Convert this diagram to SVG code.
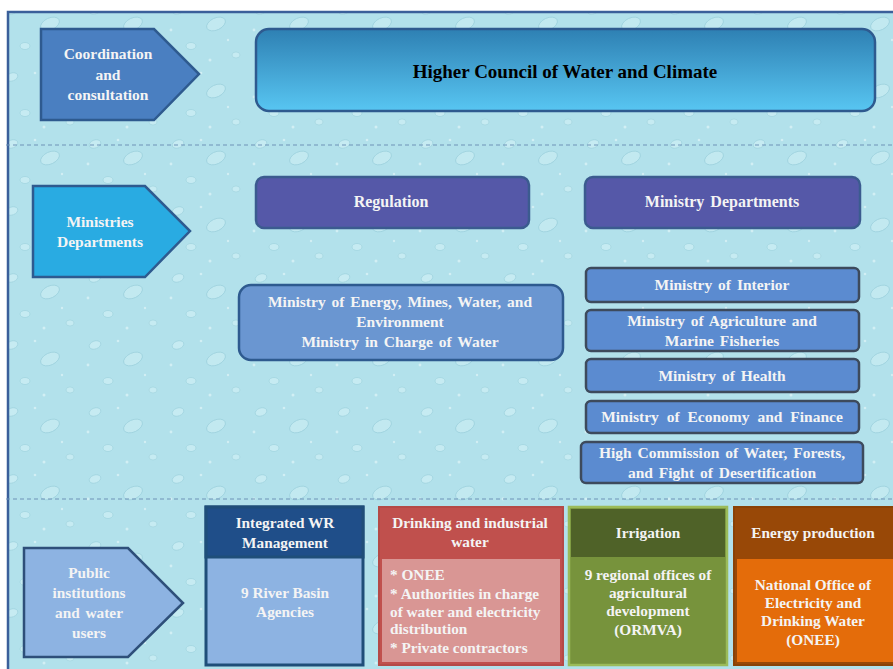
<svg xmlns="http://www.w3.org/2000/svg" width="893" height="669" viewBox="0 0 893 669">
<defs>
<pattern id="drops" x="0" y="0" width="83" height="67" patternUnits="userSpaceOnUse">
<rect width="83" height="67" fill="#b2e1eb"/>
<ellipse cx="12" cy="10" rx="6" ry="4" fill="#c6ebf2" stroke="#9dd2de" stroke-width="0.7" transform="rotate(-20 12 10)"/>
<ellipse cx="50" cy="24" rx="10" ry="6" fill="#c2e9f0" stroke="#98cedb" stroke-width="0.7" transform="rotate(-25 50 24)"/>
<ellipse cx="25" cy="46" rx="5" ry="3.5" fill="#c6ebf2" stroke="#9dd2de" stroke-width="0.7"/>
<ellipse cx="70" cy="55" rx="4" ry="3" fill="#c6ebf2" stroke="#9dd2de" stroke-width="0.6"/>
<circle cx="5" cy="30" r="1.4" fill="#d2eff4"/>
<circle cx="35" cy="6" r="1.3" fill="#d2eff4"/>
<circle cx="62" cy="40" r="1.2" fill="#d2eff4"/>
<circle cx="44" cy="60" r="1.5" fill="#d2eff4"/>
</pattern>
<linearGradient id="hc" x1="0" y1="0" x2="0" y2="1">
<stop offset="0" stop-color="#2e80b3"/>
<stop offset="1" stop-color="#58c6f2"/>
</linearGradient>
<style>
text{font-family:"Liberation Serif","Times New Roman",serif;font-weight:bold;fill:#f4f4f4;text-anchor:middle}
.arrow{stroke-width:2.5}
.dash{stroke:#6f93b8;stroke-width:1.2;stroke-dasharray:4 3;fill:none}
.min{fill:#5b8bd0;stroke:#3d4a5c;stroke-width:2.5}
.hd{fill:#5558a8;stroke:#3b5b8f;stroke-width:2.5}
.tb{font-size:15.3px}
.tm{font-size:15.5px;word-spacing:2px}
.tl{font-size:15.5px}
.th{font-size:16px}
</style>
</defs>
<rect x="0" y="0" width="893" height="669" fill="#ffffff"/>
<rect x="8" y="12" width="900" height="670" fill="url(#drops)" stroke="#3a5f9a" stroke-width="2.5"/>

<g id="connectors">
<line class="dash" x1="6" y1="145" x2="893" y2="145"/>
<line class="dash" x1="6" y1="499" x2="893" y2="499"/>
</g>

<g id="coordination">
<polygon class="arrow" points="41,29 154,29 199,74 154,120 41,120" fill="#4a7fc1" stroke="#2e5a8f"/>
<text class="tl" x="108" y="59">Coordination</text>
<text class="tl" x="108" y="80">and</text>
<text class="tl" x="108" y="100">consultation</text>
</g>

<g id="higher-council">
<rect x="256" y="29" width="619" height="82" rx="13" fill="url(#hc)" stroke="#2e5a8f" stroke-width="2.5"/>
<text x="565" y="78" style="font-size:19px;fill:#000">Higher Council of Water and Climate</text>
</g>

<g id="ministries-departments">
<polygon class="arrow" points="33,186 145,186 190,231 145,277 33,277" fill="#29abe2" stroke="#2e5a8f"/>
<text class="tl" x="100" y="227">Ministries</text>
<text class="tl" x="100" y="247">Departments</text>
</g>

<g id="regulation">
<rect class="hd" x="256" y="177" width="273" height="51" rx="8"/>
<text class="th" x="391" y="207">Regulation</text>
</g>

<g id="ministry-departments">
<rect class="hd" x="585" y="177" width="275" height="51" rx="8"/>
<text class="th" x="722" y="207" style="word-spacing:2px">Ministry Departments</text>
</g>

<g id="ministry-energy">
<rect x="239" y="285" width="324" height="75" rx="12" fill="#6a96d1" stroke="#2e5a8f" stroke-width="2.5"/>
<text class="tm" x="400" y="307">Ministry of Energy, Mines, Water, and</text>
<text class="tm" x="400" y="327">Environment</text>
<text class="tm" x="400" y="347">Ministry in Charge of Water</text>
</g>

<g id="ministry-interior">
<rect class="min" x="586" y="268" width="273" height="34" rx="5"/>
<text class="tm" x="722" y="290">Ministry of Interior</text>
</g>

<g id="ministry-agriculture">
<rect class="min" x="586" y="310" width="273" height="41" rx="5"/>
<text class="tm" x="722" y="326">Ministry of Agriculture and</text>
<text class="tm" x="722" y="346">Marine Fisheries</text>
</g>

<g id="ministry-health">
<rect class="min" x="586" y="359" width="273" height="33" rx="5"/>
<text class="tm" x="722" y="381">Ministry of Health</text>
</g>

<g id="ministry-economy">
<rect class="min" x="586" y="401" width="273" height="32" rx="5"/>
<text class="tm" x="722" y="422" style="word-spacing:4px">Ministry of Economy and Finance</text>
</g>

<g id="high-commission">
<rect class="min" x="581" y="442" width="282" height="41" rx="5"/>
<text class="tm" x="722" y="458">High Commission of Water, Forests,</text>
<text class="tm" x="722" y="478">and Fight of Desertification</text>
</g>

<g id="public-institutions">
<polygon class="arrow" points="24,548 128,548 183,603 128,657 24,657" fill="#8db3e2" stroke="#2e4f7a"/>
<text class="tb" x="89" y="578">Public</text>
<text class="tb" x="89" y="598">institutions</text>
<text class="tb" x="89" y="618" style="word-spacing:2px">and water</text>
<text class="tb" x="89" y="638">users</text>
</g>

<g id="integrated-wr">
<rect x="206" y="507" width="157" height="158" fill="#8db3e2" stroke="#1f4e79" stroke-width="3"/>
<rect x="206" y="507" width="157" height="50" fill="#1f4e89" stroke="#1f4e79" stroke-width="3"/>
<text class="tb" x="285" y="528">Integrated WR</text>
<text class="tb" x="285" y="548">Management</text>
<text class="tb" x="285" y="598">9 River Basin</text>
<text class="tb" x="285" y="617">Agencies</text>
</g>

<g id="drinking-water">
<rect x="379" y="507" width="184" height="158" fill="#c0504d" stroke="#b44a47" stroke-width="2"/>
<rect x="382" y="559" width="178" height="103" fill="#d99694"/>
<text class="tb" x="470" y="528">Drinking and industrial</text>
<text class="tb" x="470" y="547">water</text>
<text class="tb" x="390" y="580" style="text-anchor:start">* ONEE</text>
<text class="tb" x="390" y="599" style="text-anchor:start">* Authorities in charge</text>
<text class="tb" x="390" y="617" style="text-anchor:start">of water and  electricity</text>
<text class="tb" x="390" y="634" style="text-anchor:start">distribution</text>
<text class="tb" x="390" y="653" style="text-anchor:start">* Private contractors</text>
</g>

<g id="irrigation">
<rect x="569" y="507" width="158" height="158" fill="#77933c" stroke="#9bbb59" stroke-width="2.5"/>
<rect x="571" y="509" width="154" height="48" fill="#4f6228"/>
<text class="tb" x="648" y="538">Irrigation</text>
<text class="tb" x="648" y="580">9 regional offices of</text>
<text class="tb" x="648" y="598">agricultural</text>
<text class="tb" x="648" y="616">development</text>
<text class="tb" x="648" y="635">(ORMVA)</text>
</g>

<g id="energy-production">
<rect x="734" y="507" width="165" height="158" fill="#984807" stroke="#8a4206" stroke-width="2"/>
<rect x="737" y="559" width="159" height="103" fill="#e46c0a"/>
<text class="tb" x="813" y="538">Energy production</text>
<text class="tb" x="813" y="590">National Office of</text>
<text class="tb" x="813" y="608">Electricity and</text>
<text class="tb" x="813" y="626">Drinking Water</text>
<text class="tb" x="813" y="645">(ONEE)</text>
</g>
</svg>
